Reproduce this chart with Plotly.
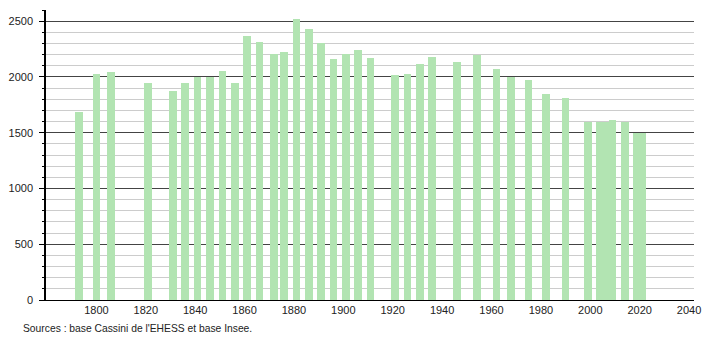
import plotly.graph_objects as go

years = [1793, 1800, 1806, 1821, 1831, 1836, 1841, 1846, 1851, 1856,
         1861, 1866, 1872, 1876, 1881, 1886, 1891, 1896, 1901, 1906,
         1911, 1921, 1926, 1931, 1936, 1946, 1954, 1962, 1968, 1975,
         1982, 1990, 1999, 2004, 2006, 2009, 2014, 2019, 2021]
population = [1690, 2025, 2040, 1950, 1870, 1950, 1995, 1995, 2050, 1950,
              2365, 2310, 2210, 2220, 2520, 2430, 2300, 2160, 2210, 2240,
              2170, 2015, 2025, 2120, 2175, 2130, 2195, 2070, 1995, 1970,
              1850, 1815, 1600, 1600, 1600, 1618, 1600, 1500, 1500]
x_ticks = list(range(1800, 2041, 20))
y_ticks = [0, 500, 1000, 1500, 2000, 2500]
source_text = "Sources : base Cassini de l'EHESS et base Insee."

font = dict(family="Liberation Sans, Arial, sans-serif", size=11, color="#222")

fig = go.Figure()
fig.add_trace(go.Bar(
    x=years, y=population, width=3.1,
    marker=dict(color="rgb(178,228,178)", line=dict(width=0)),
    hoverinfo="x+y",
))

fig.update_layout(
    width=710, height=340,
    margin=dict(l=44, r=9, t=10, b=40),
    paper_bgcolor="white", plot_bgcolor="white",
    showlegend=False,
    font=font,
    bargap=0,
)
fig.update_xaxes(
    range=[1779.6, 2042], tickvals=x_ticks, ticktext=[str(v) for v in x_ticks],
    showgrid=False, showline=True, linecolor="black", linewidth=1,
    ticks="", zeroline=False, tickfont=font,
)
fig.update_yaxes(
    range=[0, 2600], tickvals=y_ticks,
    showgrid=True, gridcolor="#444", gridwidth=1,
    showline=True, linecolor="black", linewidth=1.5,
    ticks="outside", ticklen=5, tickcolor="black",
    zeroline=False, tickfont=font, ticklabelstandoff=4,
    minor=dict(dtick=100, tick0=0, showgrid=True, gridcolor="#cccccc",
               gridwidth=1, ticks="outside", ticklen=2, tickcolor="black"),
)
fig.add_annotation(
    text=source_text, xref="paper", yref="paper",
    x=(19 - 44) / 657, y=(300 - 328) / 290,
    xanchor="left", yanchor="middle", showarrow=False,
    font=dict(family="Liberation Sans, Arial, sans-serif", size=10.3, color="#222"),
)

fig.write_html("out.html")
